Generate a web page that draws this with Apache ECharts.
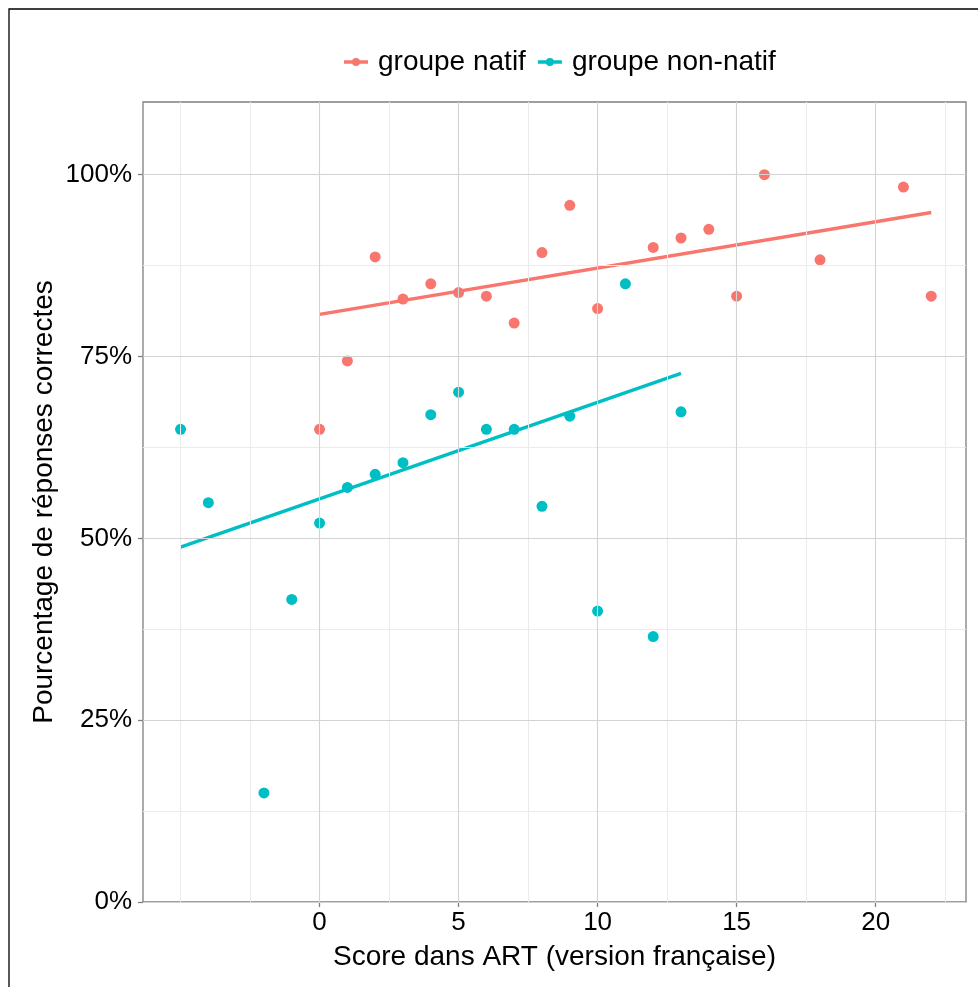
<!DOCTYPE html>
<html>
<head>
<meta charset="utf-8">
<script src="https://cdn.jsdelivr.net/npm/echarts@6/dist/echarts.min.js"></script>
<style>
  html, body { margin: 0; padding: 0; background: #ffffff; }
  #chart { width: 978px; height: 987px; }
</style>
</head>
<body>
<div id="chart"></div>
<script>
// Score ART (version française) and mean % correct, native speakers
const natifScore = [0, 1, 2, 3, 4, 5, 6, 7, 8, 9, 10, 12, 13, 14, 15, 16, 18, 21, 22];
const natifPct   = [65, 74.4, 88.7, 82.9, 85, 83.8, 83.3, 79.6, 89.3, 95.8, 81.6, 90, 91.3, 92.5, 83.3, 100, 88.3, 98.3, 83.3];

// Same measures, non-native speakers
const nonNatifScore = [-5, -4, -2, -1, 0, 1, 2, 3, 4, 5, 6, 7, 8, 9, 10, 11, 12, 13];
const nonNatifPct   = [65, 54.9, 15, 41.6, 52.1, 57, 58.8, 60.4, 67, 70.1, 65, 65, 54.4, 66.8, 40, 85, 36.5, 67.4];

// Linear trend lines (end points)
const natifFitScore = [0, 22];
const natifFitPct   = [80.8, 94.8];
const nonNatifFitScore = [-5, 13];
const nonNatifFitPct   = [48.8, 72.7];

// Axis breaks
const xTicks = [0, 5, 10, 15, 20];
const yTicks = [0, 25, 50, 75, 100];
const xMinorGrid = [-5, -2.5, 2.5, 7.5, 12.5, 17.5, 22.5];
const yMinorGrid = [12.5, 37.5, 62.5, 87.5];

const seriesNames = ['groupe natif', 'groupe non-natif'];
const colNatif = '#F8766D';
const colNonNatif = '#00BFC4';
const FONT = 'Liberation Sans, Arial, sans-serif';

// legend key: short thick line with a dot in the middle
const KEY_ICON = 'path://M0,2.25H8.4V5.75H0Z M15.6,2.25H24V5.75H15.6Z M8,4A4,4 0 1 1 16,4A4,4 0 1 1 8,4Z';

const zip = (xs, ys) => xs.map((x, i) => [x, ys[i]]);

const gridMajor = { color: '#d3d3d3', width: 1.1, type: 'solid' };
const gridMinor = { color: '#ebebeb', width: 1, type: 'solid' };

const gridLines = []
  .concat(xMinorGrid.map(v => ({ xAxis: v, lineStyle: gridMinor })))
  .concat(yMinorGrid.map(v => ({ yAxis: v, lineStyle: gridMinor })))
  .concat(xTicks.map(v => ({ xAxis: v, lineStyle: gridMajor })))
  .concat(yTicks.map(v => ({ yAxis: v, lineStyle: gridMajor })));

const chart = echarts.init(document.getElementById('chart'), null, { renderer: 'canvas' });

chart.setOption({
  animation: false,
  backgroundColor: '#ffffff',
  textStyle: { fontFamily: FONT },
  graphic: [{
    type: 'rect',
    shape: { x: 9, y: 9, width: 1200, height: 1200 },
    style: { fill: 'none', stroke: '#000000', lineWidth: 1.3 },
    silent: true,
    z: 100
  }],
  legend: {
    data: seriesNames.map(n => ({ name: n, icon: KEY_ICON })),
    top: 43,
    left: 339,
    itemWidth: 24,
    itemHeight: 8,
    itemGap: 12,
    textStyle: { fontSize: 28, color: '#000000', fontFamily: FONT, padding: [0, 0, 0, 5] }
  },
  grid: {
    left: 143, right: 12, top: 102, bottom: 85,
    show: true,
    borderColor: '#7f7f7f',
    borderWidth: 1.3,
    backgroundColor: 'transparent'
  },
  xAxis: {
    type: 'value',
    min: -6.35,
    max: 23.25,
    name: 'Score dans ART (version française)',
    nameLocation: 'middle',
    nameGap: 41,
    nameMoveOverlap: false,
    nameTextStyle: { fontSize: 28, color: '#000000', fontFamily: FONT },
    axisLine: { show: false, onZero: false },
    axisTick: { show: true, customValues: xTicks, length: 5, lineStyle: { color: '#7f7f7f', width: 1.3 } },
    axisLabel: { customValues: xTicks, fontSize: 26, color: '#000000', margin: 8, fontFamily: FONT },
    splitLine: { show: false }
  },
  yAxis: {
    type: 'value',
    min: 0,
    max: 110,
    name: 'Pourcentage de réponses correctes',
    nameLocation: 'middle',
    nameGap: 85,
    nameMoveOverlap: false,
    nameRotate: 90,
    nameTextStyle: { fontSize: 28, color: '#000000', fontFamily: FONT },
    axisLine: { show: false, onZero: false },
    axisTick: { show: true, customValues: yTicks, length: 5, lineStyle: { color: '#7f7f7f', width: 1.3 } },
    axisLabel: { customValues: yTicks, fontSize: 26, color: '#000000', margin: 11, fontFamily: FONT, formatter: v => v + '%' },
    splitLine: { show: false }
  },
  series: [
    {
      name: 'grid',
      type: 'scatter',
      data: [],
      silent: true,
      z: 0,
      markLine: {
        silent: true,
        symbol: ['none', 'none'],
        label: { show: false },
        animation: false,
        data: gridLines
      }
    },
    {
      name: seriesNames[0],
      type: 'line',
      data: zip(natifFitScore, natifFitPct),
      symbol: 'circle',
      symbolSize: 11,
      showSymbol: false,
      lineStyle: { color: colNatif, width: 3.4 },
      itemStyle: { color: colNatif },
      z: 3
    },
    {
      name: seriesNames[1],
      type: 'line',
      data: zip(nonNatifFitScore, nonNatifFitPct),
      symbol: 'circle',
      symbolSize: 11,
      showSymbol: false,
      lineStyle: { color: colNonNatif, width: 3.4 },
      itemStyle: { color: colNonNatif },
      z: 3
    },
    {
      name: seriesNames[0],
      type: 'scatter',
      data: zip(natifScore, natifPct),
      symbolSize: 11,
      itemStyle: { color: colNatif, opacity: 1 },
      z: 2
    },
    {
      name: seriesNames[1],
      type: 'scatter',
      data: zip(nonNatifScore, nonNatifPct),
      symbolSize: 11,
      itemStyle: { color: colNonNatif, opacity: 1 },
      z: 2
    }
  ]
});
</script>
</body>
</html>
